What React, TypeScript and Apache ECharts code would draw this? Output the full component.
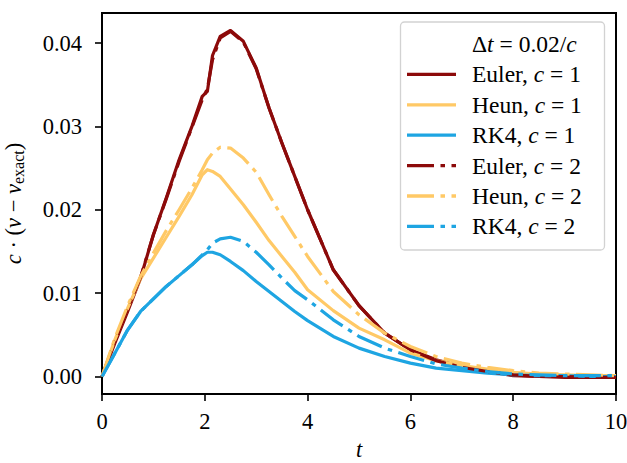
import React, { useEffect, useRef } from "react";
import * as echarts from "echarts";

const T = [0, 0.25, 0.5, 0.75, 1, 1.25, 1.5, 1.75, 1.95, 2.05, 2.15, 2.3, 2.5, 2.75, 3, 3.25, 3.5, 3.75, 4, 4.5, 5, 5.5, 6, 6.5, 7, 7.5, 8, 8.5, 9, 9.5, 10];

const eulerC1 = [0, 0.004, 0.0078, 0.0118, 0.017, 0.0214, 0.026, 0.0300, 0.0336, 0.0342, 0.0385, 0.0408, 0.0415, 0.0402, 0.0370, 0.0322, 0.0280, 0.0240, 0.0200, 0.0128, 0.0085, 0.0052, 0.0032, 0.0020, 0.0012, 0.0006, 0.0001, 0.0, -0.0001, -0.0001, -0.0001];
const heunC1 = [0, 0.0044, 0.0082, 0.0117, 0.0142, 0.0167, 0.0192, 0.0218, 0.0242, 0.0248, 0.0246, 0.0240, 0.0225, 0.0206, 0.0185, 0.0163, 0.0144, 0.0125, 0.0104, 0.0079, 0.0058, 0.0044, 0.0028, 0.0019, 0.0013, 0.0009, 0.0005, 0.0003, 0.0002, 0.0001, 0.0001];
const rk4C1 = [0, 0.0028, 0.0056, 0.0078, 0.0093, 0.0108, 0.0121, 0.0134, 0.0145, 0.0149, 0.0149, 0.0146, 0.0138, 0.0127, 0.0114, 0.0102, 0.0090, 0.0078, 0.0067, 0.0048, 0.0034, 0.0024, 0.0016, 0.0010, 0.0007, 0.0004, 0.0002, 0.0001, 0.0001, 0.0, 0.0];
const eulerC2 = [0, 0.0042, 0.0081, 0.0119, 0.0170, 0.0213, 0.0258, 0.0299, 0.0332, 0.0345, 0.0380, 0.0406, 0.0414, 0.0401, 0.0369, 0.0322, 0.0280, 0.0240, 0.0200, 0.0128, 0.0085, 0.0052, 0.0032, 0.0019, 0.0011, 0.0006, 0.0002, 0.0, 0.0, -0.0001, -0.0001];
const heunC2 = [0, 0.0046, 0.0085, 0.0120, 0.0148, 0.0175, 0.0200, 0.0226, 0.0248, 0.0260, 0.0268, 0.0275, 0.0274, 0.0262, 0.0245, 0.0218, 0.0192, 0.0168, 0.0144, 0.0102, 0.0074, 0.0052, 0.0036, 0.0024, 0.0016, 0.0011, 0.0007, 0.0004, 0.0003, 0.0002, 0.0001];
const rk4C2 = [0, 0.0028, 0.0056, 0.0078, 0.0093, 0.0108, 0.0121, 0.0134, 0.0146, 0.0152, 0.0160, 0.0165, 0.0167, 0.0162, 0.0149, 0.0134, 0.0118, 0.0103, 0.0092, 0.0068, 0.0048, 0.0034, 0.0024, 0.0015, 0.0010, 0.0006, 0.0003, 0.0002, 0.0001, 0.0001, 0.0001];

const yTicks = [0, 0.01, 0.02, 0.03, 0.04];
const xTicks = [0, 2, 4, 6, 8, 10];

const RED = "#8C0A0A";
const YEL = "#FFC966";
const BLUE = "#1EA5E2";
const DASHDOT = [27, 6.5, 4.5, 6.5];
const FONT = "Liberation Serif";
const FS = 22.5;
const LFS = 23.5;

const seriesDefs = [
  { method: "Euler", c: "1", data: eulerC1, color: RED, dash: false },
  { method: "Heun", c: "1", data: heunC1, color: YEL, dash: false },
  { method: "RK4", c: "1", data: rk4C1, color: BLUE, dash: false },
  { method: "Euler", c: "2", data: eulerC2, color: RED, dash: true },
  { method: "Heun", c: "2", data: heunC2, color: YEL, dash: true },
  { method: "RK4", c: "2", data: rk4C2, color: BLUE, dash: true },
];

const rich = {
  r: { fontFamily: FONT, fontSize: FS, color: "#000" },
  i: { fontFamily: FONT, fontSize: FS, fontStyle: "italic", color: "#000" },
  s: { fontFamily: FONT, fontSize: 16, color: "#000", padding: [10, 0, 0, 0] },
};
const lrich = {
  r: { fontFamily: FONT, fontSize: LFS, color: "#000" },
  i: { fontFamily: FONT, fontSize: LFS, fontStyle: "italic", color: "#000" },
};

export default function App() {
  const ref = useRef<HTMLDivElement>(null);
  useEffect(() => {
    if (!ref.current) return;
    const chart = echarts.init(ref.current, undefined, { renderer: "svg" });

    const lx = 407, lx2 = 456, tx = 472;
    const rowY = (k: number) => 44 + k * 30.4;
    const legendChildren: any[] = [
      {
        type: "rect",
        shape: { x: 400.5, y: 22, width: 204, height: 228, r: 4 },
        style: { fill: "rgba(255,255,255,0.85)", stroke: "#d2d2d2", lineWidth: 1.3 },
      },
      {
        type: "text",
        x: tx,
        y: rowY(0),
        style: {
          text: "{r|Δ}{i|t}{r| = 0.02/}{i|c}",
          rich: lrich,
          verticalAlign: "middle",
          align: "left",
        },
      },
    ];
    seriesDefs.forEach((s, k) => {
      const y = rowY(k + 1);
      legendChildren.push({
        type: "line",
        shape: { x1: lx, y1: y, x2: lx2, y2: y },
        style: {
          stroke: s.color,
          lineWidth: 3.3,
          lineDash: s.dash ? DASHDOT : null,
          lineCap: "butt",
        },
      });
      legendChildren.push({
        type: "text",
        x: tx,
        y: y,
        style: {
          text: `{r|${s.method}, }{i|c}{r| = ${s.c}}`,
          rich: lrich,
          verticalAlign: "middle",
          align: "left",
        },
      });
    });
    const legendGroup = { id: "legend", type: "group", z: 100, children: legendChildren };

    const option: any = {
      animation: false,
      backgroundColor: "#fff",
      grid: {
        left: 102,
        right: 11,
        top: 13,
        bottom: 69,
        containLabel: false,
        outerBoundsMode: "none",
        show: true,
        borderColor: "#000",
        borderWidth: 2,
        backgroundColor: "transparent",
      },
      xAxis: {
        type: "value",
        min: 0,
        max: 10,
        interval: 2,
        name: "t",
        nameLocation: "middle",
        nameGap: 45,
        nameTextStyle: { fontFamily: FONT, fontSize: FS, fontStyle: "italic", color: "#000", lineHeight: 16 },
        axisLine: { show: true, onZero: false, lineStyle: { color: "#000", width: 2 } },
        axisTick: { show: true, inside: false, length: 7, lineStyle: { color: "#000", width: 1.6 } },
        axisLabel: {
          show: true,
          margin: 16,
          fontFamily: FONT,
          fontSize: FS,
          color: "#000",
          customValues: xTicks,
        },
        splitLine: { show: false },
      },
      yAxis: {
        type: "value",
        min: -0.0021,
        max: 0.0436,
        name: "{i|c}{r| · (}{i|v}{r| − }{i|v}{s|exact}{r|)}",
        nameLocation: "middle",
        nameRotate: 90,
        nameGap: 76,
        nameTextStyle: { rich },
        axisLine: { show: true, onZero: false, lineStyle: { color: "#000", width: 2 } },
        axisTick: { show: true, inside: false, length: 7, customValues: yTicks, lineStyle: { color: "#000", width: 1.6 } },
        axisLabel: { show: false },
        splitLine: { show: false },
      },
      series: seriesDefs.map((s) => ({
        type: "line",
        name: `${s.method}, c = ${s.c}`,
        data: T.map((t, i) => [t, s.data[i]]),
        showSymbol: false,
        symbol: "none",
        smooth: false,
        lineStyle: {
          color: s.color,
          width: 3.2,
          type: s.dash ? DASHDOT : "solid",
          cap: "butt",
          join: "round",
        },
        itemStyle: { color: s.color },
        z: 2,
      })),
      graphic: [legendGroup],
    };
    chart.setOption(option);

    // y tick labels placed through the axis scales
    const axisX = chart.convertToPixel({ xAxisIndex: 0 }, 0) as number;
    const yLabelChildren = yTicks.map((v) => ({
      type: "text",
      x: axisX - 20,
      y: chart.convertToPixel({ yAxisIndex: 0 }, v) as number,
      style: {
        text: v.toFixed(2),
        fontFamily: FONT,
        fontSize: FS,
        fill: "#000",
        align: "right",
        verticalAlign: "middle",
      },
    }));
    chart.setOption({
      graphic: [legendGroup, { id: "ylabels", type: "group", z: 50, children: yLabelChildren }],
    });
    return () => chart.dispose();
  }, []);
  return (
    <div
      ref={ref}
      style={{ position: "fixed", left: 0, top: 0, width: 627, height: 463 }}
    />
  );
}
